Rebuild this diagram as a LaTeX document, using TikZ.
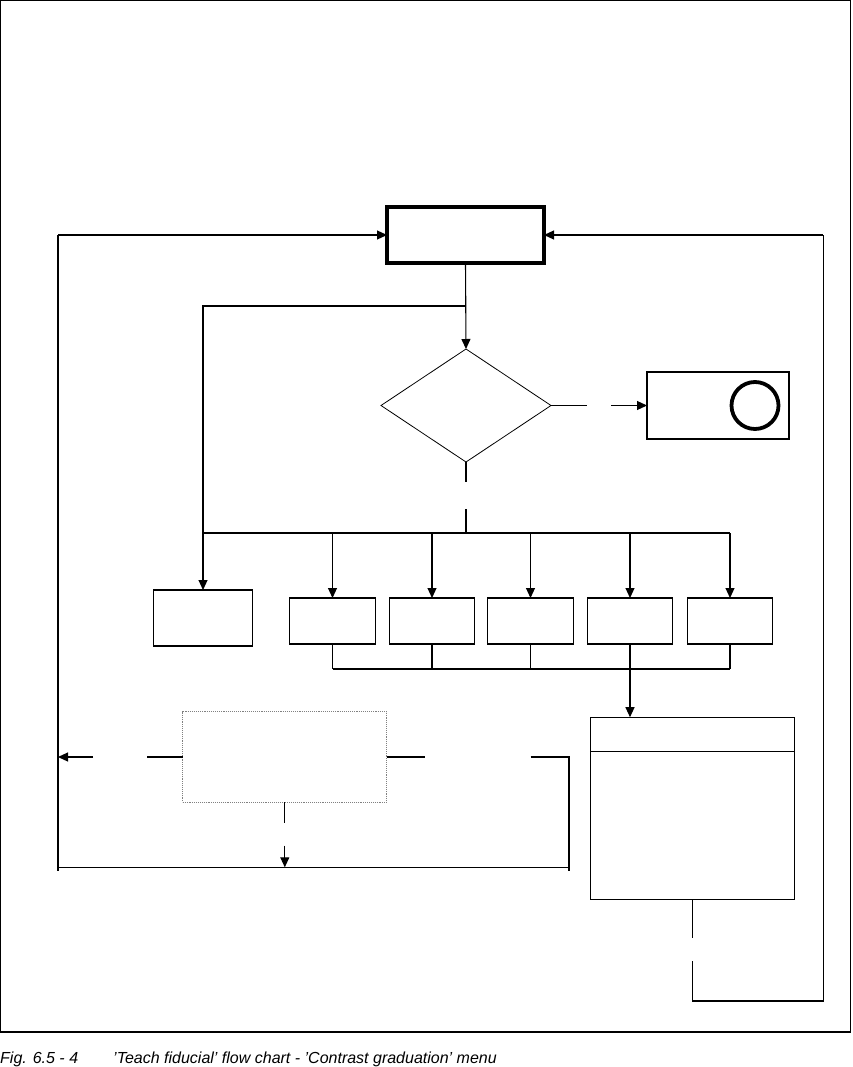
\documentclass[tikz,border=0pt]{standalone}
\usepackage{fontspec}
\setmainfont{Liberation Sans}
\usetikzlibrary{arrows.meta,shapes.geometric}
\begin{document}
\begin{tikzpicture}[x=1pt,y=-1pt,
  ln/.style={line width=1.1pt},
  arr/.style={ln,-{Triangle[length=10pt,width=9pt]}},
  box/.style={draw,ln,rectangle,inner sep=0pt,outer sep=0pt},
  captext/.style={font=\fontsize{16}{18}\selectfont\itshape,inner sep=0pt,anchor=base west}]
\useasboundingbox (0,0) rectangle (852,1067);
% outer frame
\draw[line width=1.3pt] (0.7,0.7) rectangle (850.8,1032);
% nodes
\node[box,line width=4pt,minimum width=157pt,minimum height=55pt] (top) at (465.5,235) {};
\node[draw,line width=0.8pt,diamond,inner sep=0pt,outer sep=0pt,minimum width=170pt,minimum height=113pt] (dia) at (466,405.5) {};
\node[box,minimum width=142pt,minimum height=67pt] (rbox) at (718,405.5) {};
\node[draw,circle,line width=3.8pt,minimum size=47pt,inner sep=0pt] (circ) at (755,405.5) {};
\node[box,minimum width=99pt,minimum height=56pt] (lbox) at (203,618) {};
\node[box,minimum width=85.5pt,minimum height=46pt] (b1) at (332.5,621) {};
\node[box,minimum width=85.5pt,minimum height=46pt] (b2) at (432,621) {};
\node[box,minimum width=85.5pt,minimum height=46pt] (b3) at (530.5,621) {};
\node[box,minimum width=85.5pt,minimum height=46pt] (b4) at (630,621) {};
\node[box,minimum width=85.5pt,minimum height=46pt] (b5) at (730,621) {};
\node[box,minimum width=204pt,minimum height=182pt] (big) at (692.3,808.2) {};
\draw[ln] (big.west |- 0,751.3) -- (big.east |- 0,751.3);
\node[draw,densely dotted,gray,line width=0.9pt,rectangle,inner sep=0pt,outer sep=0pt,minimum width=204pt,minimum height=90.5pt] (dot) at (284.8,757) {};
% coordinates
\coordinate (j1) at (465.5,306);
\coordinate (d1) at (587,405.5);
\coordinate (d2) at (611,405.5);
\coordinate (s1) at (466,482);
\coordinate (s2) at (466,509);
\coordinate (h0) at (203,533);
\coordinate (h5) at (730,533);
\coordinate (m1) at (332.5,669);
\coordinate (m5) at (730,669);
\coordinate (g1) at (692.3,938);
\coordinate (g2) at (692.3,961);
\coordinate (rc) at (823.3,1001);
\coordinate (rt) at (823.3,235);
\coordinate (lt) at (58,235);
\coordinate (lb) at (58,870.5);
\coordinate (lm) at (58,757);
\coordinate (e1) at (146.5,757);
\coordinate (e2) at (93,757);
\coordinate (f1) at (425.3,757);
\coordinate (f2) at (530.6,757);
\coordinate (fr) at (569,757);
\coordinate (fb) at (569,870.5);
\coordinate (bl) at (58,867.3);
\coordinate (br) at (569,867.3);
\coordinate (k1) at (284.8,823.3);
\coordinate (k2) at (284.8,845.7);
\coordinate (kb) at (284.8,867.3);
% connectors
\draw[arr] (top.south) -- (dia.north);
\draw[arr] (j1) -| (lbox.north);
\draw[ln] (dia.east) -- (d1);
\draw[arr] (d2) -- (rbox.west);
\draw[ln] (dia.south) -- (s1);
\draw[ln] (s2) -- (466,533);
\draw[ln] (h0) -- (h5);
\foreach \b in {b1,b2,b3,b4,b5}{
  \draw[arr] (\b.north |- h0) -- (\b.north);
  \draw[ln] (\b.south) -- (\b.south |- m1);
}
\draw[ln] (m1) -- (m5);
\draw[arr] (b4.south) -- (b4.south |- big.north);
\draw[ln] (big.south -| g1) -- (g1);
\draw[ln] (g2) -- (g2 |- rc) -- (rc) -- (rt);
\draw[arr] (rt) -- (top.east);
\draw[ln] (lb) -- (lt);
\draw[arr] (lt) -- (top.west);
\draw[ln] (dot.west) -- (e1);
\draw[arr] (e2) -- (lm);
\draw[ln] (dot.east) -- (f1);
\draw[ln] (f2) -- (fr) -- (fb);
\draw[ln] (bl) -- (br);
\draw[ln] (dot.south) -- (k1);
\draw[arr] (k2) -- (kb);
% caption
\node[captext] (fig) at (0,1063.5) {Fig. 6.5 - 4};
\node[captext] (title) at (113,1063.5) {'Teach fiducial' flow chart - 'Contrast graduation' menu};
\end{tikzpicture}
\end{document}
